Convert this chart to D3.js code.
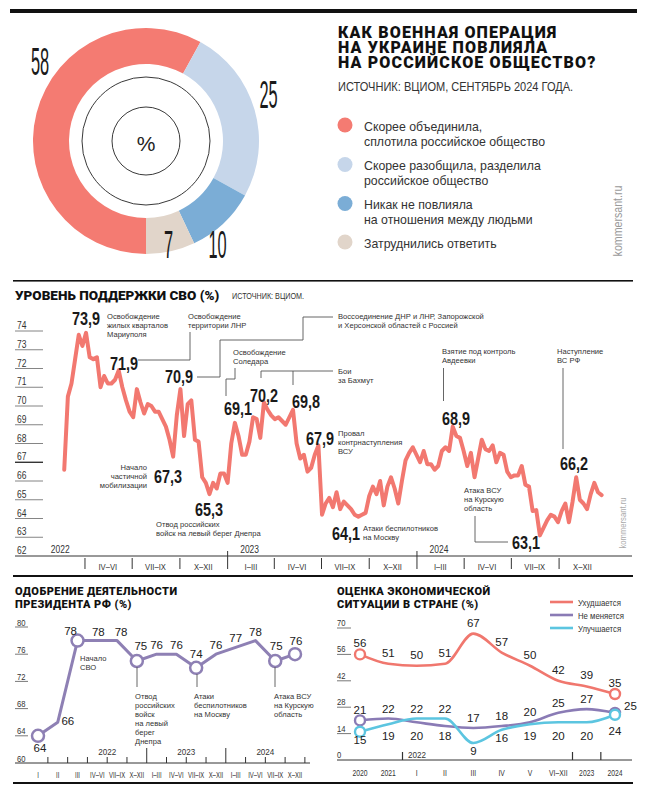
<!DOCTYPE html>
<html><head><meta charset="utf-8">
<script src="https://cdn.jsdelivr.net/npm/d3@7"></script>
<style>body{margin:0;background:#fff}svg{display:block}</style>
</head><body>
<svg id="c" width="646" height="800"></svg>
<script>
// ---------------- DATA ----------------
const donutLegend = [
  ["Скорее объединила,", "сплотила российское общество"],
  ["Скорее разобщила, разделила", "российское общество"],
  ["Никак не повлияла", "на отношения между людьми"],
  ["Затруднились ответить"]
];
const donutValues = [58, 25, 10, 7];
const donutColors = ["#f47b72", "#c6d6ea", "#7badd6", "#e1d5ca"];

const supportStart = "2022-02-20"; // weekly polls
const supportValues = [
  66.6, 70.5, 71.2, 72.5, 73.8, 73.2, 73.9, 72.6, 72.5, 72.6,
  71.0, 71.6, 71.2, 71.2, 71.4, 71.9, 71.0, 70.3, 69.7, 69.4,
  70.9, 70.2, 69.6, 70.1, 70.0, 69.7, 69.7, 69.3, 68.9, 68.2,
  67.3, 69.5, 70.9, 68.4, 70.1, 70.3, 68.2, 68.1, 66.2, 65.9,
  65.3, 65.9, 65.6, 66.4, 66.4, 65.9, 68.0, 69.1, 68.4, 67.4,
  67.4, 68.1, 69.4, 69.3, 68.3, 70.2, 69.8, 69.5, 69.3, 69.4,
  69.2, 69.0, 69.4, 69.8, 68.0, 67.2, 67.4, 66.5, 66.7, 67.4,
  67.9, 64.2, 64.8, 65.1, 64.6, 65.4, 64.5, 64.9, 64.7, 64.5,
  64.2, 64.1, 64.2, 64.3, 65.2, 65.7, 65.3, 66.0, 64.7, 65.7,
  66.2, 65.6, 64.8, 66.0, 67.1, 67.5, 67.8, 67.4, 67.0, 67.6,
  66.9, 66.9, 66.6, 66.8, 67.6, 67.8, 67.6, 68.9, 68.4, 68.3,
  67.6, 66.8, 67.5, 66.2, 67.2, 68.2, 67.7, 67.6, 67.9, 67.0,
  67.5, 67.4, 66.5, 66.2, 66.3, 66.3, 66.8, 65.8, 65.7, 64.4,
  64.45, 63.1, 63.5, 63.9, 64.2, 64.1, 63.8, 64.4, 64.8, 63.8,
  64.9, 66.2, 65.0, 64.8, 64.5, 65.3, 65.9, 65.4, 65.25
];
const supportTicks = [62,63,64,65,66,67,68,69,70,71,72,73,74];
const quarterNames = ["I–III","IV–VI","VII–IX","X–XII"];

const presCats = ["I","II","III","IV–VI","VII–IX","X–XII","I–III","IV–VI","VII–IX","X–XII","I–III","IV–VI","VII–IX","X–XII"];
const presValues = [64, 66, 78, 78, 78, 75, 76, 76, 74, 76, 77, 78, 75, 76];
const presYears = ["2022", "2023", "2024"];
const presTicks = [60, 64, 68, 72, 76, 80];

const econCats = ["2020","2021","I","II","III","IV","V","VI–XII","2023","2024"];
const econWorse  = [56, 51, 50, 51, 67, 57, 50, 42, 39, 35];
const econSame   = [21, 22, 20, 18, 17, 18, 20, 25, 27, 25];
const econBetter = [15, 19, 22, 22,  9, 16, 19, 20, 20, 24];
const econNames = ["Ухудшается", "Не меняется", "Улучшается"];
const econTicks = [0, 14, 28, 42, 56, 70];

// ---------------- HELPERS ----------------
const svg = d3.select("#c");
const NARROW = "'Liberation Sans',Arial,sans-serif";
const HEAVY = "Roboto,'Noto Sans','DejaVu Sans',sans-serif";
const SANS = "'Liberation Sans',Arial,sans-serif";
const INK = "#222";

function T(p, x, y, s, o = {}) {
  const t = p.append("text").text(s)
    .attr("font-family", o.ff || NARROW)
    .attr("font-size", o.fs || 9)
    .attr("fill", o.fill || INK)
    .attr("text-anchor", o.anchor || "start");
  if (o.fw) t.attr("font-weight", o.fw);
  if (o.ls) t.attr("letter-spacing", o.ls);
  const sx = o.sx !== undefined ? o.sx : (o.ff ? 1 : 0.85);
  const rot = o.rot ? ` rotate(${o.rot})` : "";
  t.attr("transform", `translate(${x},${y})${rot} scale(${sx},1)`);
  return t;
}
function L(p, x, y, arr, lh, o) { arr.forEach((s, i) => T(p, x, y + i * lh, s, o)); }
function P(p, pts, o = {}) {
  p.append("path").attr("d", d3.line()(pts)).attr("fill", "none")
    .attr("stroke", o.stroke || "#555").attr("stroke-width", o.sw || 0.9);
}
function R(x, y, w, h, c) { svg.append("rect").attr("x", x).attr("y", y).attr("width", w).attr("height", h).attr("fill", c || "#111"); }

// ---------------- FRAME ----------------
R(10, 9, 627, 4);
R(13, 280, 620, 1.6);
R(13, 575, 620, 2);
R(13, 782, 620, 2);

// ---------------- DONUT ----------------
const dg = svg.append("g").attr("transform", "translate(146,141)");
const pie = d3.pie().sort(null).startAngle(Math.PI).endAngle(3 * Math.PI);
const arc = d3.arc().innerRadius(77).outerRadius(113);
dg.selectAll("path.sl").data(pie(donutValues)).join("path").attr("class", "sl")
  .attr("d", arc).attr("fill", (d, i) => donutColors[i]);
dg.append("circle").attr("r", 64).attr("fill", "none").attr("stroke", "#222").attr("stroke-width", 0.9);
dg.append("circle").attr("r", 34).attr("fill", "none").attr("stroke", "#222").attr("stroke-width", 0.9);
T(dg, 0, 10, "%", { ff: SANS, fs: 21, anchor: "middle", fill: "#222" });
const donutLabelPos = [[40, 75], [268.5, 108], [217.5, 258], [168.5, 258]];
donutValues.forEach((v, i) => T(svg, donutLabelPos[i][0], donutLabelPos[i][1], String(v),
  { fs: 39, sx: 0.42, anchor: "middle", fill: "#1a1a1a" }));

// title
L(svg, 338, 38, ["КАК ВОЕННАЯ ОПЕРАЦИЯ", "НА УКРАИНЕ ПОВЛИЯЛА", "НА РОССИЙСКОЕ ОБЩЕСТВО?"], 15,
  { ff: HEAVY, fs: 16, fw: 900, fill: "#111", ls: 1.15 });
T(svg, 338, 91, "ИСТОЧНИК: ВЦИОМ, СЕНТЯБРЬ 2024 ГОДА.", { fs: 13, fill: "#333" });

// legend
const legY = [125, 164.5, 203.5, 242];
donutLegend.forEach((ls, i) => {
  svg.append("circle").attr("cx", 345).attr("cy", legY[i]).attr("r", 7.5).attr("fill", donutColors[i]);
  L(svg, 364, legY[i] + 5.5, ls, 15, { fs: 13.4, sx: 0.92, fill: "#333" });
});
T(svg, 622, 221, "kommersant.ru", { fs: 12.5, fill: "#9a9a9a", anchor: "middle", rot: -90 });

// ---------------- SUPPORT LINE CHART ----------------
T(svg, 15, 300, "УРОВЕНЬ ПОДДЕРЖКИ СВО (%)", { ff: HEAVY, fs: 13.5, fw: 900, fill: "#111" });
T(svg, 232, 299, "ИСТОЧНИК: ВЦИОМ.", { fs: 8.5, fill: "#333" });

const t0 = d3.isoParse(supportStart);
const supportDates = supportValues.map((v, i) => d3.timeDay.offset(t0, 7 * i));
const xS = d3.scaleTime().domain([new Date(2022, 0, 1), new Date(2025, 0, 1)]).range([38.3, 606.8]);
const yS = d3.scaleLinear().domain([62, 74]).range([556, 331]);
const mg = svg.append("g");

supportTicks.forEach(v => {
  if (v > 62) mg.append("line").attr("x1", 15).attr("x2", 43).attr("y1", yS(v)).attr("y2", yS(v))
    .attr("stroke", v === 67 ? "#111" : "#666").attr("stroke-width", v === 67 ? 1.2 : 0.8);
  T(mg, 17, yS(v) - 2, String(v), { fs: 10, fill: "#333" });
});
mg.append("line").attr("x1", 15).attr("x2", 632).attr("y1", yS(62)).attr("y2", yS(62)).attr("stroke", "#333").attr("stroke-width", 1);

const quarters = d3.timeMonth.every(3).range(new Date(2022, 3, 1), new Date(2024, 11, 1));
quarters.forEach(q => {
  const yr = q.getMonth() === 0;
  mg.append("line").attr("x1", xS(q)).attr("x2", xS(q)).attr("y1", yr ? 551 : 558).attr("y2", 569)
    .attr("stroke", "#333").attr("stroke-width", 1);
});
d3.timeMonth.every(3).range(new Date(2022, 3, 1), new Date(2025, 0, 1)).forEach(q => {
  const mid = new Date(q.getFullYear(), q.getMonth() + 1, 15);
  T(mg, xS(mid), 570, quarterNames[q.getMonth() / 3], { fs: 9, anchor: "middle", fill: "#333" });
});
[2022, 2023, 2024].forEach(yv => {
  T(mg, xS(new Date(yv, 0, 1)) + 22, 553, String(yv), { fs: 10, anchor: "middle", fill: "#333" });
});

mg.append("path").datum(supportValues)
  .attr("d", d3.line().x((d, i) => xS(supportDates[i])).y(d => yS(d)))
  .attr("fill", "none").attr("stroke", "#f27870").attr("stroke-width", 4)
  .attr("stroke-linejoin", "round").attr("stroke-linecap", "round");

// annotations
const big = { fs: 19, sx: 0.76, fw: 700, fill: "#1a1a1a" };
const small = { fs: 8, sx: 0.95, fill: "#333" };
const LH = 9;
const bigLabels = [
  ["73,9", 72, 325], ["71,9", 110, 370], ["70,9", 165, 383], ["67,3", 154, 483], ["65,3", 195, 516],
  ["69,1", 224, 415], ["70,2", 250, 402], ["69,8", 292, 408], ["67,9", 306, 445], ["64,1", 332, 540],
  ["68,9", 442, 425], ["66,2", 560, 470], ["63,1", 512, 549]
];
bigLabels.forEach(b => T(mg, b[1], b[2], b[0], big));

L(mg, 107, 319, ["Освобождение", "жилых кварталов", "Мариуполя"], LH, small);
L(mg, 188, 319, ["Освобождение", "территории ЛНР"], LH, small);
P(mg, [[138, 360], [190, 360], [190, 332]]);
L(mg, 338, 318.5, ["Воссоединение ДНР и ЛНР, Запорожской", "и Херсонской областей с Россией"], LH, small);
P(mg, [[197, 377], [220, 377], [220, 340], [303, 340], [303, 317], [333, 317]]);
L(mg, 233, 354.5, ["Освобождение", "Соледара"], LH, small);
P(mg, [[226, 396], [226, 379], [235, 379], [235, 368]]);
L(mg, 338, 373.5, ["Бои", "за Бахмут"], 9.5, small);
P(mg, [[261, 378], [261, 371], [333, 371]]);
P(mg, [[293, 371], [293, 385]]);
L(mg, 338, 436, ["Провал", "контрнаступления", "ВСУ"], LH, small);
L(mg, 147, 470, ["Начало", "частичной", "мобилизации"], LH, Object.assign({}, small, { anchor: "end" }));
L(mg, 156, 527, ["Отвод российских", "войск на левый берег Днепра"], LH, small);
L(mg, 363, 530.5, ["Атаки беспилотников", "на Москву"], LH, small);
L(mg, 442, 353.5, ["Взятие под контроль", "Авдеевки"], LH, small);
P(mg, [[443.5, 368], [443.5, 401]]);
L(mg, 557, 353.5, ["Наступление", "ВС РФ"], LH, small);
P(mg, [[563, 368], [563, 449]]);
L(mg, 464, 492.5, ["Атака ВСУ", "на Курскую", "область"], LH, small);
P(mg, [[475, 516], [475, 542], [508, 542]]);
T(mg, 626, 523, "kommersant.ru", { fs: 9, fill: "#aaa", anchor: "middle", rot: -90 });

// ---------------- PRESIDENT APPROVAL ----------------
const pg = svg.append("g");
const subTitle = { ff: HEAVY, fs: 11, fw: 900, fill: "#111", ls: 0.45 };
L(pg, 15, 595, ["ОДОБРЕНИЕ ДЕЯТЕЛЬНОСТИ", "ПРЕЗИДЕНТА РФ (%)"], 13, subTitle);
const xP = d3.scalePoint().domain(d3.range(presCats.length)).range([38, 295]);
const yP = d3.scaleLinear().domain([60, 80]).range([763, 627]);
const stepP = xP.step();
presTicks.forEach(v => {
  if (v > 60) pg.append("line").attr("x1", 15).attr("x2", 28).attr("y1", yP(v)).attr("y2", yP(v)).attr("stroke", "#555").attr("stroke-width", 0.8);
  T(pg, 17, yP(v) - 1.5, String(v), { fs: 9, fill: "#333" });
});
pg.append("line").attr("x1", 15).attr("x2", 310).attr("y1", 763).attr("y2", 763).attr("stroke", "#333");
presCats.forEach((c, i) => {
  const tx = xP(i) + stepP / 2;
  const yr = (i === 5 || i === 9);
  pg.append("line").attr("x1", tx).attr("x2", tx).attr("y1", yr ? 748 : 757).attr("y2", 763).attr("stroke", "#333");
  T(pg, xP(i), 778, c, { fs: 8.5, sx: 0.7, anchor: "middle", fill: "#333" });
});
[[3, 4], [7, 8], [11, 12]].forEach((pr, k) => T(pg, (xP(pr[0]) + xP(pr[1])) / 2, 755, presYears[k], { fs: 9.5, anchor: "middle", fill: "#333" }));
const PURPLE = "#8e80b4";
pg.append("path").datum(presValues).attr("d", d3.line().x((d, i) => xP(i)).y(d => yP(d)))
  .attr("fill", "none").attr("stroke", PURPLE).attr("stroke-width", 3).attr("stroke-linejoin", "round");
const presCircles = [0, 2, 5, 8, 12, 13];
presCircles.forEach(i => pg.append("circle").attr("cx", xP(i)).attr("cy", yP(presValues[i])).attr("r", 6)
  .attr("fill", "#fff").attr("stroke", PURPLE).attr("stroke-width", 2.5));
const presLabelOff = [[2, 16], [10, 3], [-7, -6], [1, -5], [4, -5], [4, -11], [0, -5], [0, -5], [0, -10], [0, -5], [0, -5], [0, -5], [1, -11], [1, -9]];
presValues.forEach((v, i) => T(pg, xP(i) + presLabelOff[i][0], yP(v) + presLabelOff[i][1], String(v),
  { ff: SANS, fs: 11.5, anchor: "middle", fill: "#222" }));
L(pg, 80, 661, ["Начало", "СВО"], LH, small);
P(pg, [[137, 667], [137, 687]]);
L(pg, 135, 699, ["Отвод", "российских", "войск", "на левый", "берег", "Днепра"], LH, small);
P(pg, [[197, 674], [197, 687]]);
L(pg, 194, 699, ["Атаки", "беспилотников", "на Москву"], LH, small);
P(pg, [[275, 667], [275, 687]]);
L(pg, 274, 699, ["Атака ВСУ", "на Курскую", "область"], LH, small);

// ---------------- ECONOMY ----------------
const eg = svg.append("g");
L(eg, 337, 595, ["ОЦЕНКА ЭКОНОМИЧЕСКОЙ", "СИТУАЦИИ В СТРАНЕ (%)"], 13, subTitle);
const xE = d3.scalePoint().domain(econCats).range([360, 615]);
const yE = d3.scaleLinear().domain([0, 70]).range([760, 628]);
econTicks.forEach(v => {
  if (v > 0) eg.append("line").attr("x1", 337).attr("x2", 351).attr("y1", yE(v)).attr("y2", yE(v)).attr("stroke", "#555").attr("stroke-width", 0.8);
  T(eg, 337, yE(v) - 2, String(v), { fs: 9, fill: "#333" });
});
eg.append("line").attr("x1", 337).attr("x2", 632).attr("y1", 760).attr("y2", 760).attr("stroke", "#333");
[["2021", "I"], ["VI–XII", "2023"], ["2023", "2024"]].forEach(pr => {
  const tx = (xE(pr[0]) + xE(pr[1])) / 2;
  eg.append("line").attr("x1", tx).attr("x2", tx).attr("y1", 752).attr("y2", 760).attr("stroke", "#333").attr("stroke-width", 1.2);
});
T(eg, 408, 758, "2022", { fs: 9.5, fill: "#333" });
econCats.forEach(c => T(eg, xE(c), 776, c, { fs: 8.5, sx: 0.8, anchor: "middle", fill: "#333" }));

const econColors = ["#f0776e", "#8a7bb5", "#5cc5e0"];
const econSeries = [econWorse, econSame, econBetter];
const lineE = d3.line().x((d, i) => xE(econCats[i])).y(d => yE(d)).curve(d3.curveMonotoneX);
econSeries.forEach((s, k) => {
  eg.append("path").datum(s).attr("d", lineE).attr("fill", "none").attr("stroke", econColors[k]).attr("stroke-width", 2.6);
});
econSeries.forEach((s, k) => {
  [0, s.length - 1].forEach(i => eg.append("circle").attr("cx", xE(econCats[i])).attr("cy", yE(s[i])).attr("r", 5)
    .attr("fill", "#fff").attr("stroke", econColors[k]).attr("stroke-width", 2.4));
});
const lab = { ff: SANS, fs: 11.5, anchor: "middle", fill: "#222" };
econWorse.forEach((v, i) => T(eg, xE(econCats[i]), yE(v) - 7, String(v), lab));
econCats.forEach((c, i) => {
  const a = econSame[i], b = econBetter[i];
  const hi = Math.max(a, b), lo = Math.min(a, b);
  if (i === econCats.length - 1) {
    T(eg, xE(c) + 9, yE(a) - 3, String(a), Object.assign({}, lab, { anchor: "start" }));
    T(eg, xE(c), yE(b) + 20, String(b), lab);
  } else {
    T(eg, xE(c), yE(hi) - 6, String(hi), lab);
    T(eg, xE(c), Math.max(yE(lo) + 12, 740), String(lo), lab);
  }
});
econNames.forEach((n, k) => {
  const ly = 602 + k * 13;
  eg.append("line").attr("x1", 550).attr("x2", 573).attr("y1", ly).attr("y2", ly).attr("stroke", econColors[k]).attr("stroke-width", 2.6);
  T(eg, 578, ly + 3.5, n, { fs: 9.5, sx: 0.82, fill: "#333" });
});
</script>
</body></html>
